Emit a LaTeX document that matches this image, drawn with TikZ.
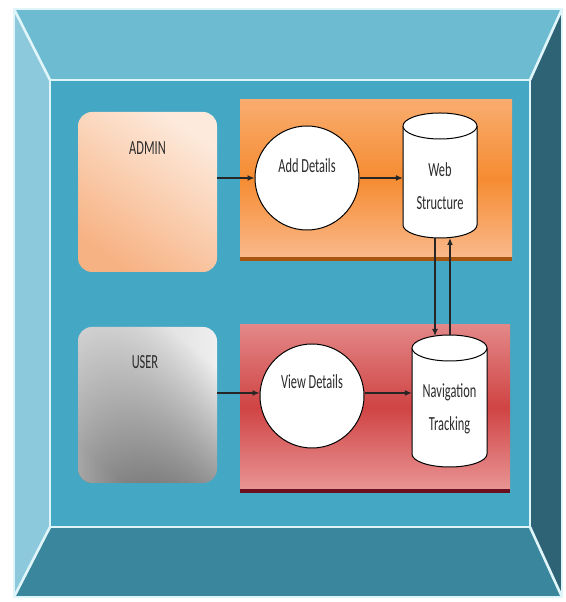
\documentclass[tikz,border=0pt]{standalone}
\usepackage{graphicx}
\usepackage{fontspec}
\setmainfont{Carlito}
\usetikzlibrary{arrows.meta,fadings}
\definecolor{frtop}{HTML}{6DBBD1}
\definecolor{frleft}{HTML}{8CC9DC}
\definecolor{frright}{HTML}{2E6376}
\definecolor{frbot}{HTML}{3A879D}
\definecolor{frin}{HTML}{44A7C3}
\definecolor{frline}{HTML}{E0F5F9}
\definecolor{orA}{HTML}{F9AC6E}
\definecolor{orB}{HTML}{F58C32}
\definecolor{orC}{HTML}{FAB98C}
\definecolor{orEdge}{HTML}{A8560F}
\definecolor{rdA}{HTML}{E38787}
\definecolor{rdB}{HTML}{D04444}
\definecolor{rdC}{HTML}{E99595}
\definecolor{rdEdge}{HTML}{6A0F1E}
\definecolor{pkA}{HTML}{FDEADC}
\definecolor{pkB}{HTML}{F7B283}
\definecolor{gyA}{HTML}{F0F0F0}
\definecolor{gyB}{HTML}{5E5E5E}
\definecolor{gyC}{HTML}{8A8A8A}
\definecolor{txt}{HTML}{2B2B2B}
\newcommand\sqz[1]{\scalebox{0.62}[1]{#1}}
\newcommand\mycyl[5]{%
  \filldraw[cylstyle] (#1-#4,#2-#5) -- (#1-#4,#3+#5)
    arc[start angle=180,end angle=360,x radius=#4pt,y radius=#5pt]
    -- (#1+#4,#2-#5)
    arc[start angle=0,end angle=180,x radius=#4pt,y radius=#5pt] -- cycle;
  \draw[cylstyle] (#1-#4,#2-#5)
    arc[start angle=180,end angle=360,x radius=#4pt,y radius=#5pt];}
\tikzset{
  frame/.style={draw=frline,line width=2.6pt,line join=round},
  cylstyle/.style={draw=black,fill=white,line width=1pt},
  proc/.style={circle,draw=black,fill=white,line width=1pt,minimum size=104pt,inner sep=0pt},
  lbl/.style={text=txt,font=\fontsize{20}{24}\selectfont,inner sep=0pt},
  arr/.style={draw=black!85,line width=1.2pt,-{Latex[length=7pt,width=6pt]}},
  actor/.style={rounded corners=14pt},
}
\begin{document}
\begin{tikzpicture}[x=1pt,y=1pt]
\useasboundingbox (0,0) rectangle (565,602);
\fill[white] (0,0) rectangle (565,602);
% frame
\fill[frtop] (14,593) -- (562,593) -- (530,522) -- (50,522) -- cycle;
\fill[frleft] (14,593) -- (50,522) -- (50,75) -- (14,5) -- cycle;
\fill[frright] (562,593) -- (562,5) -- (530,75) -- (530,522) -- cycle;
\fill[frbot] (14,5) -- (562,5) -- (530,75) -- (50,75) -- cycle;
\fill[frin] (50,75) rectangle (530,522);
\draw[frame] (14,5) rectangle (562,593);
\draw[frame] (50,75) rectangle (530,522);
\draw[frame] (14,593) -- (50,522);
\draw[frame] (562,593) -- (530,522);
\draw[frame] (14,5) -- (50,75);
\draw[frame] (562,5) -- (530,75);
% panels
\shade[top color=orA,bottom color=orC,middle color=orB] (240,344) rectangle (512,502);
\fill[orEdge] (240,341) rectangle (512,345);
\shade[top color=rdA,bottom color=rdC,middle color=rdB] (240,112) rectangle (510,277);
\fill[rdEdge] (240,109) rectangle (510,113);
% actors
\shade[actor,top color=pkA,bottom color=pkB,shading angle=-35] (78,330) rectangle (217,490);
\node[lbl] (admin) at (147.5,410) {};
\node[lbl] at (147.5,454) {\sqz{ADMIN}};
\shade[actor,top color=gyA,bottom color=gyB,shading angle=-40] (78,119) rectangle (217,275);
\shade[actor,left color=gyA,right color=gyC,path fading=east,opacity=0.5] (78,119) rectangle (217,275);
\node[lbl] (user) at (147.5,197) {};
\node[lbl] at (145,240) {\sqz{USER}};
% processes
\node[proc,label={[lbl,yshift=-47pt]north:{\sqz{Add Details}}}] (add) at (307,424) {};
\node[proc,label={[lbl,yshift=-45pt]north:{\sqz{View Details}}}] (view) at (312,206) {};
% stores
\mycyl{440}{489}{364}{37}{13}
\node[minimum width=74pt,minimum height=125pt,inner sep=0pt] (web) at (440,426.5) {};
\node[lbl] at (440,432) {\sqz{Web}};
\node[lbl] at (440,399) {\sqz{Structure}};
\mycyl{449.5}{267}{135}{37.5}{13}
\node[minimum width=75pt,minimum height=132pt,inner sep=0pt] (nav) at (449.5,201) {};
\node[lbl] at (449.5,210) {\sqz{Navigation}};
\node[lbl] at (449.5,177) {\sqz{Tracking}};
% connectors
\coordinate (a1) at (217,424);
\coordinate (v1) at (217,209);
\draw[arr] (a1) -- (add.west);
\draw[arr] (add.east) -- (web.west |- add.east);
\draw[arr] (v1) -- (view.west |- v1);
\draw[arr] (view.east |- v1) -- (nav.west |- v1);
\coordinate (wb1) at (435,364);
\coordinate (nt1) at (435,266);
\coordinate (wb2) at (450,364);
\coordinate (nt2) at (450,267);
\draw[arr] (wb1) -- (nt1);
\draw[arr] (nt2) -- (wb2);
\end{tikzpicture}
\end{document}
